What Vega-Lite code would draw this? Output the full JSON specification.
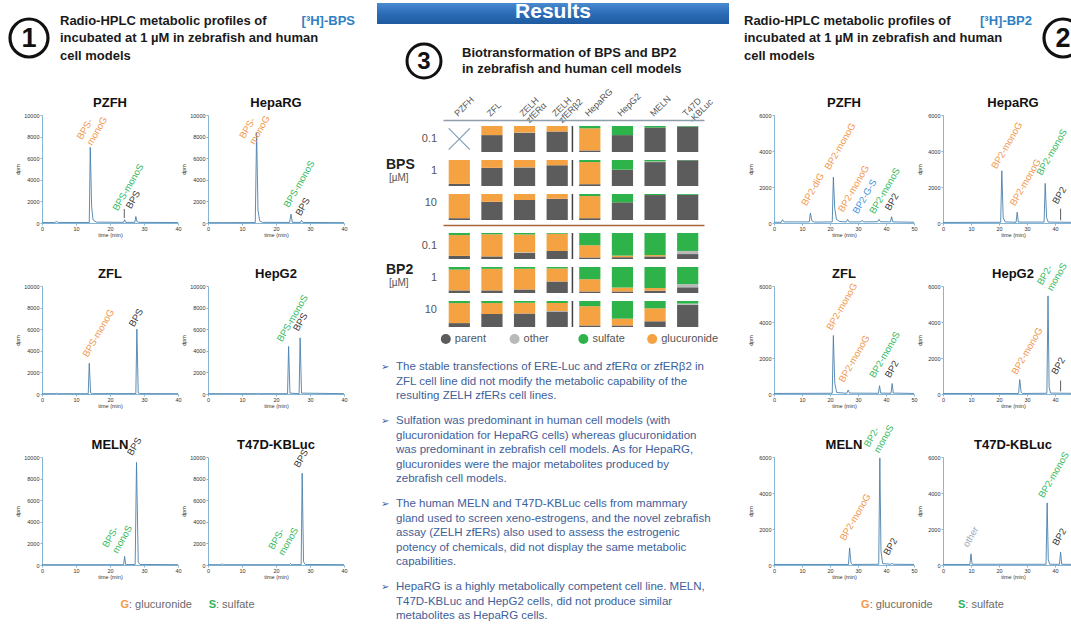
{
"$schema": "https://vega.github.io/schema/vega-lite/v6.json",
"background": "#ffffff",
"padding": {"left": 3, "top": 0, "right": 0, "bottom": 0},
"config": {"font": "Liberation Sans", "view": {"stroke": null}, "axis": {"labelOverlap": false}, "axisY": {"minExtent": 0}},
"datasets": {
"rank": [{"metab":"parent","rank":1},{"metab":"other","rank":2},{"metab":"glucuronide","rank":3},{"metab":"sulfate","rank":4}],
"bps_hplc": [
{"c":"PZFH","r":"trace","t":0,"d":40},{"c":"PZFH","r":"trace","t":3.8,"d":40},{"c":"PZFH","r":"trace","t":4.2,"d":150},{"c":"PZFH","r":"trace","t":4.8,"d":50},{"c":"PZFH","r":"trace","t":13.9,"d":50},{"c":"PZFH","r":"trace","t":14.2,"d":7000},{"c":"PZFH","r":"trace","t":14.6,"d":1500},{"c":"PZFH","r":"trace","t":15,"d":300},{"c":"PZFH","r":"trace","t":16,"d":80},{"c":"PZFH","r":"trace","t":24,"d":60},{"c":"PZFH","r":"trace","t":24.3,"d":300},{"c":"PZFH","r":"trace","t":24.6,"d":60},{"c":"PZFH","r":"trace","t":27.3,"d":60},{"c":"PZFH","r":"trace","t":27.6,"d":600},{"c":"PZFH","r":"trace","t":27.9,"d":150},{"c":"PZFH","r":"trace","t":28.4,"d":60},{"c":"PZFH","r":"trace","t":40,"d":40},
{"c":"HepaRG","r":"trace","t":0,"d":30},{"c":"HepaRG","r":"trace","t":13.9,"d":40},{"c":"HepaRG","r":"trace","t":14.3,"d":8400},{"c":"HepaRG","r":"trace","t":14.7,"d":1200},{"c":"HepaRG","r":"trace","t":15.2,"d":200},{"c":"HepaRG","r":"trace","t":16,"d":60},{"c":"HepaRG","r":"trace","t":24,"d":50},{"c":"HepaRG","r":"trace","t":24.4,"d":820},{"c":"HepaRG","r":"trace","t":24.8,"d":60},{"c":"HepaRG","r":"trace","t":27.2,"d":50},{"c":"HepaRG","r":"trace","t":27.5,"d":250},{"c":"HepaRG","r":"trace","t":27.9,"d":50},{"c":"HepaRG","r":"trace","t":40,"d":30},
{"c":"ZFL","r":"trace","t":0,"d":30},{"c":"ZFL","r":"trace","t":3.8,"d":30},{"c":"ZFL","r":"trace","t":4.2,"d":70},{"c":"ZFL","r":"trace","t":4.6,"d":30},{"c":"ZFL","r":"trace","t":13.6,"d":30},{"c":"ZFL","r":"trace","t":13.9,"d":2850},{"c":"ZFL","r":"trace","t":14.3,"d":100},{"c":"ZFL","r":"trace","t":14.8,"d":30},{"c":"ZFL","r":"trace","t":27.6,"d":40},{"c":"ZFL","r":"trace","t":27.9,"d":6000},{"c":"ZFL","r":"trace","t":28.3,"d":100},{"c":"ZFL","r":"trace","t":28.8,"d":40},{"c":"ZFL","r":"trace","t":40,"d":30},
{"c":"HepG2","r":"trace","t":0,"d":30},{"c":"HepG2","r":"trace","t":14.5,"d":30},{"c":"HepG2","r":"trace","t":14.8,"d":60},{"c":"HepG2","r":"trace","t":15.2,"d":30},{"c":"HepG2","r":"trace","t":23.4,"d":30},{"c":"HepG2","r":"trace","t":23.7,"d":4400},{"c":"HepG2","r":"trace","t":24.1,"d":80},{"c":"HepG2","r":"trace","t":26.8,"d":30},{"c":"HepG2","r":"trace","t":27.1,"d":5200},{"c":"HepG2","r":"trace","t":27.5,"d":80},{"c":"HepG2","r":"trace","t":40,"d":30},
{"c":"MELN","r":"trace","t":0,"d":30},{"c":"MELN","r":"trace","t":24,"d":30},{"c":"MELN","r":"trace","t":24.3,"d":800},{"c":"MELN","r":"trace","t":24.6,"d":40},{"c":"MELN","r":"trace","t":27.4,"d":40},{"c":"MELN","r":"trace","t":27.8,"d":9500},{"c":"MELN","r":"trace","t":28.3,"d":300},{"c":"MELN","r":"trace","t":28.8,"d":50},{"c":"MELN","r":"trace","t":40,"d":30},
{"c":"T47D-KBLuc","r":"trace","t":0,"d":30},{"c":"T47D-KBLuc","r":"trace","t":3.8,"d":30},{"c":"T47D-KBLuc","r":"trace","t":4.2,"d":100},{"c":"T47D-KBLuc","r":"trace","t":4.6,"d":30},{"c":"T47D-KBLuc","r":"trace","t":24,"d":30},{"c":"T47D-KBLuc","r":"trace","t":24.3,"d":150},{"c":"T47D-KBLuc","r":"trace","t":24.6,"d":30},{"c":"T47D-KBLuc","r":"trace","t":27.4,"d":40},{"c":"T47D-KBLuc","r":"trace","t":27.7,"d":8500},{"c":"T47D-KBLuc","r":"trace","t":28.1,"d":300},{"c":"T47D-KBLuc","r":"trace","t":28.6,"d":50},{"c":"T47D-KBLuc","r":"trace","t":40,"d":30},
{"c":"PZFH","r":"label","t":11,"d":7800,"lab":"BPS-\nmonoG","k":"G"},{"c":"PZFH","r":"label","t":21.5,"d":1200,"lab":"BPS-monoS","k":"S"},{"c":"PZFH","r":"label","t":25.4,"d":1400,"lab":"BPS","k":"P"},
{"c":"HepaRG","r":"label","t":10,"d":7900,"lab":"BPS-\nmonoG","k":"G"},{"c":"HepaRG","r":"label","t":23,"d":1500,"lab":"BPS-monoS","k":"S"},{"c":"HepaRG","r":"label","t":26.5,"d":750,"lab":"BPS","k":"P"},
{"c":"ZFL","r":"label","t":12.7,"d":3500,"lab":"BPS-monoG","k":"G"},{"c":"ZFL","r":"label","t":26.3,"d":6300,"lab":"BPS","k":"P"},
{"c":"HepG2","r":"label","t":21,"d":4900,"lab":"BPS-monoS","k":"S"},{"c":"HepG2","r":"label","t":25.8,"d":5900,"lab":"BPS","k":"P"},
{"c":"MELN","r":"label","t":18.5,"d":1700,"lab":"BPS-\nmonoS","k":"S"},{"c":"MELN","r":"label","t":25.8,"d":10200,"lab":"BPS","k":"P"},
{"c":"T47D-KBLuc","r":"label","t":18.5,"d":1500,"lab":"BPS-\nmonoS","k":"S"},{"c":"T47D-KBLuc","r":"label","t":26,"d":9100,"lab":"BPS","k":"P"},
{"c":"PZFH","r":"arrow","t":24.2,"d":1300,"d2":450}
],
"bp2_hplc": [
{"c":"PZFH","r":"trace","t":0,"d":40},{"c":"PZFH","r":"trace","t":2.6,"d":40},{"c":"PZFH","r":"trace","t":3,"d":180},{"c":"PZFH","r":"trace","t":3.6,"d":60},{"c":"PZFH","r":"trace","t":12.6,"d":60},{"c":"PZFH","r":"trace","t":13,"d":550},{"c":"PZFH","r":"trace","t":13.5,"d":120},{"c":"PZFH","r":"trace","t":14.5,"d":50},{"c":"PZFH","r":"trace","t":20.8,"d":60},{"c":"PZFH","r":"trace","t":21.2,"d":2550},{"c":"PZFH","r":"trace","t":21.7,"d":800},{"c":"PZFH","r":"trace","t":22.3,"d":200},{"c":"PZFH","r":"trace","t":23.5,"d":80},{"c":"PZFH","r":"trace","t":25.8,"d":60},{"c":"PZFH","r":"trace","t":26.3,"d":200},{"c":"PZFH","r":"trace","t":26.8,"d":60},{"c":"PZFH","r":"trace","t":31,"d":60},{"c":"PZFH","r":"trace","t":31.5,"d":150},{"c":"PZFH","r":"trace","t":32,"d":60},{"c":"PZFH","r":"trace","t":37,"d":70},{"c":"PZFH","r":"trace","t":37.5,"d":200},{"c":"PZFH","r":"trace","t":38,"d":70},{"c":"PZFH","r":"trace","t":41.6,"d":60},{"c":"PZFH","r":"trace","t":42,"d":350},{"c":"PZFH","r":"trace","t":42.4,"d":60},{"c":"PZFH","r":"trace","t":50,"d":40},
{"c":"HepaRG","r":"trace","t":0,"d":30},{"c":"HepaRG","r":"trace","t":20.6,"d":40},{"c":"HepaRG","r":"trace","t":21,"d":2900},{"c":"HepaRG","r":"trace","t":21.5,"d":300},{"c":"HepaRG","r":"trace","t":22.2,"d":60},{"c":"HepaRG","r":"trace","t":26.1,"d":40},{"c":"HepaRG","r":"trace","t":26.5,"d":600},{"c":"HepaRG","r":"trace","t":26.9,"d":50},{"c":"HepaRG","r":"trace","t":36.1,"d":50},{"c":"HepaRG","r":"trace","t":36.5,"d":2200},{"c":"HepaRG","r":"trace","t":37,"d":300},{"c":"HepaRG","r":"trace","t":37.6,"d":50},{"c":"HepaRG","r":"trace","t":50,"d":30},
{"c":"ZFL","r":"trace","t":0,"d":30},{"c":"ZFL","r":"trace","t":20.8,"d":40},{"c":"ZFL","r":"trace","t":21.2,"d":3250},{"c":"ZFL","r":"trace","t":21.7,"d":600},{"c":"ZFL","r":"trace","t":22.4,"d":80},{"c":"ZFL","r":"trace","t":26,"d":40},{"c":"ZFL","r":"trace","t":26.5,"d":220},{"c":"ZFL","r":"trace","t":27,"d":50},{"c":"ZFL","r":"trace","t":37.3,"d":40},{"c":"ZFL","r":"trace","t":37.7,"d":460},{"c":"ZFL","r":"trace","t":38.1,"d":50},{"c":"ZFL","r":"trace","t":41.8,"d":40},{"c":"ZFL","r":"trace","t":42.2,"d":580},{"c":"ZFL","r":"trace","t":42.6,"d":50},{"c":"ZFL","r":"trace","t":50,"d":30},
{"c":"HepG2","r":"trace","t":0,"d":30},{"c":"HepG2","r":"trace","t":27,"d":30},{"c":"HepG2","r":"trace","t":27.4,"d":800},{"c":"HepG2","r":"trace","t":27.9,"d":100},{"c":"HepG2","r":"trace","t":28.4,"d":30},{"c":"HepG2","r":"trace","t":37.1,"d":40},{"c":"HepG2","r":"trace","t":37.5,"d":5450},{"c":"HepG2","r":"trace","t":37.9,"d":400},{"c":"HepG2","r":"trace","t":38.4,"d":50},{"c":"HepG2","r":"trace","t":50,"d":30},
{"c":"MELN","r":"trace","t":0,"d":30},{"c":"MELN","r":"trace","t":26.6,"d":30},{"c":"MELN","r":"trace","t":27,"d":950},{"c":"MELN","r":"trace","t":27.5,"d":100},{"c":"MELN","r":"trace","t":28,"d":30},{"c":"MELN","r":"trace","t":37.4,"d":40},{"c":"MELN","r":"trace","t":37.8,"d":5950},{"c":"MELN","r":"trace","t":38.2,"d":800},{"c":"MELN","r":"trace","t":38.8,"d":80},{"c":"MELN","r":"trace","t":41.8,"d":40},{"c":"MELN","r":"trace","t":42.2,"d":100},{"c":"MELN","r":"trace","t":42.6,"d":40},{"c":"MELN","r":"trace","t":50,"d":30},
{"c":"T47D-KBLuc","r":"trace","t":0,"d":30},{"c":"T47D-KBLuc","r":"trace","t":9.6,"d":30},{"c":"T47D-KBLuc","r":"trace","t":10,"d":620},{"c":"T47D-KBLuc","r":"trace","t":10.4,"d":40},{"c":"T47D-KBLuc","r":"trace","t":36.8,"d":40},{"c":"T47D-KBLuc","r":"trace","t":37.2,"d":3450},{"c":"T47D-KBLuc","r":"trace","t":37.6,"d":300},{"c":"T47D-KBLuc","r":"trace","t":38.1,"d":40},{"c":"T47D-KBLuc","r":"trace","t":41.6,"d":40},{"c":"T47D-KBLuc","r":"trace","t":42,"d":710},{"c":"T47D-KBLuc","r":"trace","t":42.4,"d":40},{"c":"T47D-KBLuc","r":"trace","t":50,"d":30},
{"c":"PZFH","r":"label","t":10.7,"d":1000,"lab":"BP2-diG","k":"G"},{"c":"PZFH","r":"label","t":19,"d":3000,"lab":"BP2-monoG","k":"G"},{"c":"PZFH","r":"label","t":23.8,"d":650,"lab":"BP2-monoG","k":"G"},{"c":"PZFH","r":"label","t":29,"d":550,"lab":"BP2-G-S","k":"GS"},{"c":"PZFH","r":"label","t":35,"d":550,"lab":"BP2-monoS","k":"S"},{"c":"PZFH","r":"label","t":40.5,"d":740,"lab":"BP2","k":"P"},
{"c":"HepaRG","r":"label","t":18.2,"d":3050,"lab":"BP2-monoG","k":"G"},{"c":"HepaRG","r":"label","t":24.8,"d":1000,"lab":"BP2-monoG","k":"G"},{"c":"HepaRG","r":"label","t":34.3,"d":2700,"lab":"BP2-monoS","k":"S"},{"c":"HepaRG","r":"label","t":40,"d":1100,"lab":"BP2","k":"P"},
{"c":"ZFL","r":"label","t":19.6,"d":3600,"lab":"BP2-monoG","k":"G"},{"c":"ZFL","r":"label","t":24,"d":700,"lab":"BP2-monoG","k":"G"},{"c":"ZFL","r":"label","t":35,"d":950,"lab":"BP2-monoS","k":"S"},{"c":"ZFL","r":"label","t":40.5,"d":950,"lab":"BP2","k":"P"},
{"c":"HepG2","r":"label","t":25.4,"d":1130,"lab":"BP2-monoG","k":"G"},{"c":"HepG2","r":"label","t":34.5,"d":6100,"lab":"BP2-\nmonoS","k":"S"},{"c":"HepG2","r":"label","t":39.6,"d":1130,"lab":"BP2","k":"P"},
{"c":"MELN","r":"label","t":24.4,"d":1400,"lab":"BP2-monoG","k":"G"},{"c":"MELN","r":"label","t":33,"d":6600,"lab":"BP2-\nmonoS","k":"S"},{"c":"MELN","r":"label","t":40,"d":580,"lab":"BP2","k":"P"},
{"c":"T47D-KBLuc","r":"label","t":8,"d":1040,"lab":"other","k":"O"},{"c":"T47D-KBLuc","r":"label","t":35,"d":3775,"lab":"BP2-monoS","k":"S"},{"c":"T47D-KBLuc","r":"label","t":40,"d":1130,"lab":"BP2","k":"P"},
{"c":"HepaRG","r":"arrow","t":42,"d":800,"d2":150},{"c":"HepG2","r":"arrow","t":42,"d":750,"d2":150}
],
"bps_grid": [
{"conc":"0.1","cell":"PZFH","metab":"none","v":0},
{"conc":"0.1","cell":"ZFL","metab":"parent","v":0.65},{"conc":"0.1","cell":"ZFL","metab":"glucuronide","v":0.35},
{"conc":"0.1","cell":"ZELH|zfERα","metab":"parent","v":0.74},{"conc":"0.1","cell":"ZELH|zfERα","metab":"other","v":0.01},{"conc":"0.1","cell":"ZELH|zfERα","metab":"glucuronide","v":0.25},
{"conc":"0.1","cell":"ZELH|zfERβ2","metab":"parent","v":0.79},{"conc":"0.1","cell":"ZELH|zfERβ2","metab":"glucuronide","v":0.21},
{"conc":"0.1","cell":"HepaRG","metab":"parent","v":0.06},{"conc":"0.1","cell":"HepaRG","metab":"glucuronide","v":0.85},{"conc":"0.1","cell":"HepaRG","metab":"sulfate","v":0.09},
{"conc":"0.1","cell":"HepG2","metab":"parent","v":0.65},{"conc":"0.1","cell":"HepG2","metab":"sulfate","v":0.35},
{"conc":"0.1","cell":"MELN","metab":"parent","v":0.94},{"conc":"0.1","cell":"MELN","metab":"sulfate","v":0.06},
{"conc":"0.1","cell":"T47D|-KBLuc","metab":"parent","v":0.98},{"conc":"0.1","cell":"T47D|-KBLuc","metab":"sulfate","v":0.02},
{"conc":"1","cell":"PZFH","metab":"parent","v":0.08},{"conc":"1","cell":"PZFH","metab":"glucuronide","v":0.92},
{"conc":"1","cell":"ZFL","metab":"parent","v":0.7},{"conc":"1","cell":"ZFL","metab":"glucuronide","v":0.3},
{"conc":"1","cell":"ZELH|zfERα","metab":"parent","v":0.71},{"conc":"1","cell":"ZELH|zfERα","metab":"other","v":0.01},{"conc":"1","cell":"ZELH|zfERα","metab":"glucuronide","v":0.28},
{"conc":"1","cell":"ZELH|zfERβ2","metab":"parent","v":0.8},{"conc":"1","cell":"ZELH|zfERβ2","metab":"glucuronide","v":0.2},
{"conc":"1","cell":"HepaRG","metab":"parent","v":0.07},{"conc":"1","cell":"HepaRG","metab":"glucuronide","v":0.85},{"conc":"1","cell":"HepaRG","metab":"sulfate","v":0.08},
{"conc":"1","cell":"HepG2","metab":"parent","v":0.63},{"conc":"1","cell":"HepG2","metab":"sulfate","v":0.37},
{"conc":"1","cell":"MELN","metab":"parent","v":0.92},{"conc":"1","cell":"MELN","metab":"other","v":0.03},{"conc":"1","cell":"MELN","metab":"sulfate","v":0.05},
{"conc":"1","cell":"T47D|-KBLuc","metab":"parent","v":0.99},{"conc":"1","cell":"T47D|-KBLuc","metab":"sulfate","v":0.01},
{"conc":"10","cell":"PZFH","metab":"parent","v":0.07},{"conc":"10","cell":"PZFH","metab":"glucuronide","v":0.93},
{"conc":"10","cell":"ZFL","metab":"parent","v":0.7},{"conc":"10","cell":"ZFL","metab":"glucuronide","v":0.3},
{"conc":"10","cell":"ZELH|zfERα","metab":"parent","v":0.77},{"conc":"10","cell":"ZELH|zfERα","metab":"glucuronide","v":0.23},
{"conc":"10","cell":"ZELH|zfERβ2","metab":"parent","v":0.82},{"conc":"10","cell":"ZELH|zfERβ2","metab":"glucuronide","v":0.18},
{"conc":"10","cell":"HepaRG","metab":"parent","v":0.07},{"conc":"10","cell":"HepaRG","metab":"glucuronide","v":0.85},{"conc":"10","cell":"HepaRG","metab":"sulfate","v":0.08},
{"conc":"10","cell":"HepG2","metab":"parent","v":0.68},{"conc":"10","cell":"HepG2","metab":"sulfate","v":0.32},
{"conc":"10","cell":"MELN","metab":"parent","v":0.96},{"conc":"10","cell":"MELN","metab":"sulfate","v":0.04},
{"conc":"10","cell":"T47D|-KBLuc","metab":"parent","v":0.97},{"conc":"10","cell":"T47D|-KBLuc","metab":"sulfate","v":0.03}
],
"bp2_grid": [
{"conc":"0.1","cell":"PZFH","metab":"parent","v":0.12},{"conc":"0.1","cell":"PZFH","metab":"glucuronide","v":0.8},{"conc":"0.1","cell":"PZFH","metab":"sulfate","v":0.08},
{"conc":"0.1","cell":"ZFL","metab":"parent","v":0.1},{"conc":"0.1","cell":"ZFL","metab":"glucuronide","v":0.85},{"conc":"0.1","cell":"ZFL","metab":"sulfate","v":0.05},
{"conc":"0.1","cell":"ZELH|zfERα","metab":"parent","v":0.24},{"conc":"0.1","cell":"ZELH|zfERα","metab":"other","v":0.02},{"conc":"0.1","cell":"ZELH|zfERα","metab":"glucuronide","v":0.68},{"conc":"0.1","cell":"ZELH|zfERα","metab":"sulfate","v":0.06},
{"conc":"0.1","cell":"ZELH|zfERβ2","metab":"parent","v":0.31},{"conc":"0.1","cell":"ZELH|zfERβ2","metab":"glucuronide","v":0.66},{"conc":"0.1","cell":"ZELH|zfERβ2","metab":"sulfate","v":0.03},
{"conc":"0.1","cell":"HepaRG","metab":"parent","v":0.06},{"conc":"0.1","cell":"HepaRG","metab":"glucuronide","v":0.47},{"conc":"0.1","cell":"HepaRG","metab":"sulfate","v":0.47},
{"conc":"0.1","cell":"HepG2","metab":"parent","v":0.07},{"conc":"0.1","cell":"HepG2","metab":"glucuronide","v":0.06},{"conc":"0.1","cell":"HepG2","metab":"sulfate","v":0.87},
{"conc":"0.1","cell":"MELN","metab":"parent","v":0.1},{"conc":"0.1","cell":"MELN","metab":"glucuronide","v":0.05},{"conc":"0.1","cell":"MELN","metab":"sulfate","v":0.85},
{"conc":"0.1","cell":"T47D|-KBLuc","metab":"parent","v":0.19},{"conc":"0.1","cell":"T47D|-KBLuc","metab":"other","v":0.12},{"conc":"0.1","cell":"T47D|-KBLuc","metab":"sulfate","v":0.69},
{"conc":"1","cell":"PZFH","metab":"parent","v":0.1},{"conc":"1","cell":"PZFH","metab":"glucuronide","v":0.8},{"conc":"1","cell":"PZFH","metab":"sulfate","v":0.1},
{"conc":"1","cell":"ZFL","metab":"parent","v":0.1},{"conc":"1","cell":"ZFL","metab":"glucuronide","v":0.83},{"conc":"1","cell":"ZFL","metab":"sulfate","v":0.07},
{"conc":"1","cell":"ZELH|zfERα","metab":"parent","v":0.13},{"conc":"1","cell":"ZELH|zfERα","metab":"glucuronide","v":0.8},{"conc":"1","cell":"ZELH|zfERα","metab":"sulfate","v":0.07},
{"conc":"1","cell":"ZELH|zfERβ2","metab":"parent","v":0.44},{"conc":"1","cell":"ZELH|zfERβ2","metab":"glucuronide","v":0.5},{"conc":"1","cell":"ZELH|zfERβ2","metab":"sulfate","v":0.06},
{"conc":"1","cell":"HepaRG","metab":"parent","v":0.06},{"conc":"1","cell":"HepaRG","metab":"glucuronide","v":0.47},{"conc":"1","cell":"HepaRG","metab":"sulfate","v":0.47},
{"conc":"1","cell":"HepG2","metab":"parent","v":0.06},{"conc":"1","cell":"HepG2","metab":"glucuronide","v":0.15},{"conc":"1","cell":"HepG2","metab":"sulfate","v":0.79},
{"conc":"1","cell":"MELN","metab":"parent","v":0.09},{"conc":"1","cell":"MELN","metab":"glucuronide","v":0.1},{"conc":"1","cell":"MELN","metab":"sulfate","v":0.81},
{"conc":"1","cell":"T47D|-KBLuc","metab":"parent","v":0.22},{"conc":"1","cell":"T47D|-KBLuc","metab":"other","v":0.12},{"conc":"1","cell":"T47D|-KBLuc","metab":"sulfate","v":0.66},
{"conc":"10","cell":"PZFH","metab":"parent","v":0.15},{"conc":"10","cell":"PZFH","metab":"glucuronide","v":0.77},{"conc":"10","cell":"PZFH","metab":"sulfate","v":0.08},
{"conc":"10","cell":"ZFL","metab":"parent","v":0.5},{"conc":"10","cell":"ZFL","metab":"glucuronide","v":0.42},{"conc":"10","cell":"ZFL","metab":"sulfate","v":0.08},
{"conc":"10","cell":"ZELH|zfERα","metab":"parent","v":0.52},{"conc":"10","cell":"ZELH|zfERα","metab":"glucuronide","v":0.41},{"conc":"10","cell":"ZELH|zfERα","metab":"sulfate","v":0.07},
{"conc":"10","cell":"ZELH|zfERβ2","metab":"parent","v":0.6},{"conc":"10","cell":"ZELH|zfERβ2","metab":"other","v":0.02},{"conc":"10","cell":"ZELH|zfERβ2","metab":"glucuronide","v":0.3},{"conc":"10","cell":"ZELH|zfERβ2","metab":"sulfate","v":0.08},
{"conc":"10","cell":"HepaRG","metab":"parent","v":0.06},{"conc":"10","cell":"HepaRG","metab":"glucuronide","v":0.74},{"conc":"10","cell":"HepaRG","metab":"sulfate","v":0.2},
{"conc":"10","cell":"HepG2","metab":"parent","v":0.06},{"conc":"10","cell":"HepG2","metab":"glucuronide","v":0.26},{"conc":"10","cell":"HepG2","metab":"sulfate","v":0.68},
{"conc":"10","cell":"MELN","metab":"parent","v":0.22},{"conc":"10","cell":"MELN","metab":"glucuronide","v":0.5},{"conc":"10","cell":"MELN","metab":"sulfate","v":0.28},
{"conc":"10","cell":"T47D|-KBLuc","metab":"parent","v":0.85},{"conc":"10","cell":"T47D|-KBLuc","metab":"other","v":0.05},{"conc":"10","cell":"T47D|-KBLuc","metab":"sulfate","v":0.1}
]
},
"resolve": {"scale": {"color": "independent"}},
"spacing": 16,
"hconcat": [
{
 "columns": 1, "align": "none",
 "spacing": 23,
 "resolve": {"scale": {"color": "independent"}},
 "concat": [
  {"width": 319, "height": 70,
   "data": {"values": [{"line": 1, "part": "a", "txt": "Radio-HPLC metabolic profiles of"}, {"line": 1, "part": "b", "txt": "[³H]-BPS"}, {"line": 2, "part": "a", "txt": "incubated at 1 µM in zebrafish and human"}, {"line": 3, "part": "a", "txt": "cell models"}]},
   "layer": [
    {"transform": [{"filter": "datum.line == 1 && datum.part == 'a'"}], "mark": {"type": "point", "shape": "M -1.684 0 A 1 1 0 1 1 0.316 0 A 1 1 0 1 1 -1.684 0 Z", "size": 1444, "filled": false, "color": "#111111", "strokeWidth": 3.2, "opacity": 1},
     "encoding": {"x": {"datum": 0, "type": "quantitative", "scale": {"domain": [0, 1]}, "axis": null}}},
    {"transform": [{"filter": "datum.line == 1 && datum.part == 'a'"}], "mark": {"type": "text", "fontSize": 27, "fontWeight": "bold", "color": "#111111", "baseline": "middle", "align": "center", "dx": -13, "dy": 1},
     "encoding": {"x": {"datum": 0, "type": "quantitative", "scale": {"domain": [0, 1]}, "axis": null}, "text": {"value": "1"}}},
    {"transform": [{"filter": "datum.part == 'a'"}], "mark": {"type": "text", "align": "left", "baseline": "middle", "fontSize": 13, "fontWeight": "bold", "color": "#1a1a1a", "dx": 18},
     "encoding": {"y": {"field": "line", "type": "ordinal", "axis": null, "scale": {"type": "point", "padding": 1.333}}, "x": {"datum": 0, "type": "quantitative", "scale": {"domain": [0, 1]}, "axis": null}, "text": {"field": "txt"}}},
    {"transform": [{"filter": "datum.part == 'b'"}], "mark": {"type": "text", "align": "right", "baseline": "middle", "fontSize": 13, "fontWeight": "bold", "color": "#2f7fc4", "dx": -6},
     "encoding": {"y": {"field": "line", "type": "ordinal", "axis": null, "scale": {"type": "point", "padding": 1.333}}, "x": {"datum": 1, "type": "quantitative", "scale": {"domain": [0, 1]}, "axis": null}, "text": {"field": "txt"}}}
   ]},
  {"columns": 1, "align": "none", "spacing": 15, "resolve": {"scale": {"color": "independent"}}, "concat": [
   {"data": {"name": "bps_hplc"},
    "facet": {"field": "c", "type": "nominal", "sort": ["PZFH", "HepaRG", "ZFL", "HepG2", "MELN", "T47D-KBLuc"], "title": null, "header": {"labelExpr": "''", "labelFontSize": 1, "labelPadding": 0}},
    "columns": 2,
    "bounds": "flush",
    "spacing": {"row": 63, "column": 30},
    "resolve": {"axis": {"x": "independent", "y": "independent"}},
    "spec": {"width": 136, "height": 108,
     "encoding": {
        "x": {"field": "t", "type": "quantitative", "scale": {"domain": [0, 40], "nice": false},
              "axis": {"title": "time (min)", "values": [0,5,10,15,20,25,30,35,40], "tickCount": 8, "format": "d", "labelOverlap": false, "labelFlush": false, "grid": false, "labelFontSize": 5.5, "titleFontSize": 5.5, "titleFontWeight": "normal", "labelColor": "#333333", "titleColor": "#333333", "domainColor": "#86b6d6", "tickColor": "#86b6d6", "tickSize": 2, "labelPadding": 1, "titlePadding": 1}},
        "y": {"field": "d", "type": "quantitative", "scale": {"domain": [0, 10000], "nice": false},
              "axis": {"title": "dpm", "values": [0,1000,2000,3000,4000,5000,6000,7000,8000,9000,10000], "tickCount": 10, "minExtent": 0, "format": "d", "labelOverlap": false, "labelFlush": false, "grid": false, "labelFontSize": 5.5, "titleFontSize": 5.5, "titleFontWeight": "normal", "labelColor": "#333333", "titleColor": "#333333", "domainColor": "#86b6d6", "tickColor": "#86b6d6", "tickSize": 2, "labelPadding": 1, "titlePadding": 3}}
     },
     "layer": [
      {"transform": [{"filter": "datum.r == 'trace'"}], "mark": {"type": "line", "color": "#4a80ad", "strokeWidth": 0.9}},
      {"transform": [{"filter": "datum.r == 'label'"}], "mark": {"type": "text", "angle": -60, "align": "left", "baseline": "middle", "fontSize": 9.5, "lineBreak": "\n"},
       "encoding": {"text": {"field": "lab"},
        "color": {"field": "k", "type": "nominal", "scale": {"domain": ["G", "S", "P", "GS", "O"], "range": ["#f0964a", "#2fb85a", "#333333", "#3d8fd6", "#9aa8b8"]}, "legend": null}}},
      {"transform": [{"filter": "datum.r == 'arrow'"}], "mark": {"type": "rule", "color": "#333333", "strokeWidth": 0.8},
       "encoding": {"y2": {"field": "d2"}}},
      {"transform": [{"filter": "datum.r == 'trace' && datum.t == 0"}], "mark": {"type": "text", "fontSize": 13, "fontWeight": "bold", "color": "#111111", "align": "center", "baseline": "middle", "dy": -12},
       "encoding": {
        "x": {"datum": 20, "type": "quantitative",
              "axis": {"title": "time (min)", "values": [0,5,10,15,20,25,30,35,40], "tickCount": 8, "format": "d", "labelOverlap": false, "labelFlush": false, "grid": false, "labelFontSize": 5.5, "titleFontSize": 5.5, "titleFontWeight": "normal", "labelColor": "#333333", "titleColor": "#333333", "domainColor": "#86b6d6", "tickColor": "#86b6d6", "tickSize": 2, "labelPadding": 1, "titlePadding": 1}},
        "y": {"datum": 10000, "type": "quantitative",
              "axis": {"title": "dpm", "values": [0,1000,2000,3000,4000,5000,6000,7000,8000,9000,10000], "tickCount": 10, "minExtent": 0, "format": "d", "labelOverlap": false, "labelFlush": false, "grid": false, "labelFontSize": 5.5, "titleFontSize": 5.5, "titleFontWeight": "normal", "labelColor": "#333333", "titleColor": "#333333", "domainColor": "#86b6d6", "tickColor": "#86b6d6", "tickSize": 2, "labelPadding": 1, "titlePadding": 3}},
        "text": {"field": "c"}}}
     ]}
   },
   {"width": 261, "height": 20,
    "data": {"values": [{"key": "G", "desc": ": glucuronide"}, {"key": "S", "desc": ": sulfate"}]},
    "encoding": {"x": {"field": "key", "type": "nominal", "scale": {"type": "point", "padding": 1.195}, "axis": null}},
    "layer": [
     {"mark": {"type": "text", "align": "right", "baseline": "middle", "fontSize": 11, "fontWeight": "bold"},
      "encoding": {"text": {"field": "key"}, "color": {"field": "key", "type": "nominal", "scale": {"domain": ["G", "S"], "range": ["#f39a4a", "#2fb35a"]}, "legend": null}}},
     {"mark": {"type": "text", "align": "left", "baseline": "middle", "fontSize": 11, "color": "#6a6a6a"}, "encoding": {"text": {"field": "desc"}}}
    ]}
  ]}
 ]
},
{
 "spacing": 15,
 "resolve": {"scale": {"color": "independent"}},
 "hconcat": [
  {
   "columns": 1, "align": "none",
   "spacing": 14,
   "resolve": {"scale": {"color": "independent"}},
   "concat": [
    {"width": 352, "height": 21, "data": {"values": [{"t": "Results"}]},
     "layer": [
      {"mark": {"type": "rect", "color": {"gradient": "linear", "x1": 0, "y1": 0, "x2": 0, "y2": 1, "stops": [{"offset": 0, "color": "#4a8ad0"}, {"offset": 0.5, "color": "#2c6cb8"}, {"offset": 1, "color": "#1e5aa0"}]}}, "encoding": {}},
      {"mark": {"type": "text", "fontSize": 21, "fontWeight": "bold", "color": "#ffffff", "baseline": "middle", "dy": -2}, "encoding": {"text": {"field": "t"}}}
     ]},
    {"columns": 1, "align": "none", "spacing": 14, "concat": [
    {"columns": 1, "align": "none", "spacing": 2, "concat": [
    {"spacing": 15, "hconcat": [
     {"width": 9, "height": 38, "data": {"values": [{"s": 1}]}, "mark": {"type": "rect", "color": "#ffffff"}, "encoding": {}},
     {"width": 36, "height": 38, "data": {"values": [{"n": "3"}]},
      "layer": [
       {"mark": {"type": "point", "shape": "circle", "size": 1156, "filled": false, "color": "#111111", "strokeWidth": 3, "opacity": 1}, "encoding": {}},
       {"mark": {"type": "text", "fontSize": 24, "fontWeight": "bold", "color": "#111111", "baseline": "middle", "dy": 1}, "encoding": {"text": {"field": "n"}}}
      ]},
     {"width": 253, "height": 38,
      "data": {"values": [{"line": 1, "txt": "Biotransformation of BPS and BP2"}, {"line": 2, "txt": "in zebrafish and human cell models"}]},
      "mark": {"type": "text", "align": "left", "baseline": "middle", "fontSize": 13, "fontWeight": "bold", "color": "#1a1a1a"},
      "encoding": {"y": {"field": "line", "type": "ordinal", "axis": null, "scale": {"type": "point", "padding": 0.6875}},
                   "x": {"datum": 0, "type": "quantitative", "scale": {"domain": [0, 1]}, "axis": null}, "text": {"field": "txt"}}}
    ]},
    {"columns": 1, "align": "none", "spacing": 4, "concat": [
     {"spacing": 4, "hconcat": [
      {"width": 62, "height": 90, "data": {"values": [{"conc": "0.1"}, {"conc": "1"}, {"conc": "10"}]},
       "encoding": {"y": {"field": "conc", "type": "ordinal", "sort": ["0.1", "1", "10"], "scale": {"type": "band", "paddingInner": 0.1875, "paddingOuter": 0}, "axis": null},
                    "x": {"datum": 1, "type": "quantitative", "scale": {"domain": [0, 1]}, "axis": null}},
       "layer": [
        {"mark": {"type": "text", "align": "right", "baseline": "middle", "fontSize": 11, "color": "#555555", "dx": -2}, "encoding": {"text": {"field": "conc"}}},
        {"transform": [{"filter": "datum.conc == '1'"}], "mark": {"type": "text", "align": "left", "baseline": "middle", "fontSize": 14, "fontWeight": "bold", "color": "#222222", "dx": -53, "dy": -6}, "encoding": {"text": {"value": "BPS"}}},
        {"transform": [{"filter": "datum.conc == '1'"}], "mark": {"type": "text", "align": "left", "baseline": "middle", "fontSize": 10, "color": "#555555", "dx": -50, "dy": 7}, "encoding": {"text": {"value": "[µM]"}}}
       ]},
      {"data": {"name": "bps_grid"},
       "transform": [{"lookup": "metab", "from": {"data": {"name": "rank"}, "key": "metab", "fields": ["rank"]}}],
       "facet": {"row": {"field": "conc", "type": "ordinal", "sort": ["0.1", "1", "10"], "title": null, "header": {"labels": false}}},
       "spacing": {"row": 6},
       "spec": {"width": 261, "height": 26,
        "layer": [
         {"transform": [{"filter": "datum.metab != 'none'"}], "mark": {"type": "bar"},
          "encoding": {
           "x": {"field": "cell", "type": "nominal", "sort": ["PZFH", "ZFL", "ZELH|zfERα", "ZELH|zfERβ2", "HepaRG", "HepG2", "MELN", "T47D|-KBLuc"], "scale": {"paddingInner": 0.35, "paddingOuter": 0.175},
                 "axis": {"orient": "top", "title": null, "ticks": false, "labelAngle": -45, "labelFontSize": 9, "labelLineHeight": 9, "labelColor": "#555555", "labelExpr": "split(datum.label, '|')", "domainColor": "#8d9daa", "domainWidth": 1.5, "offset": 5, "labelPadding": 2}},
           "y": {"field": "v", "type": "quantitative", "stack": "normalize", "axis": null},
           "order": {"field": "rank", "type": "quantitative", "sort": "ascending"},
           "color": {"field": "metab", "type": "nominal", "scale": {"domain": ["parent", "other", "sulfate", "glucuronide"], "range": ["#5c5c5c", "#b9b9b9", "#2db34a", "#f5a243"]}, "legend": null}
          }},
         {"transform": [{"filter": "datum.metab == 'none'"}], "mark": {"type": "point", "shape": "M-1,-1L1,1M-1,1L1,-1", "size": 450, "filled": false, "color": "#7f9fb8", "strokeWidth": 1.2, "opacity": 1},
          "encoding": {"x": {"field": "cell", "type": "nominal", "sort": ["PZFH", "ZFL", "ZELH|zfERα", "ZELH|zfERβ2", "HepaRG", "HepG2", "MELN", "T47D|-KBLuc"]}}},
         {"transform": [{"filter": "datum.cell == 'HepaRG' && datum.metab == 'parent'"}], "mark": {"type": "rule", "color": "#444444", "strokeWidth": 1.5},
          "encoding": {"x": {"datum": "HepaRG", "bandPosition": -0.32}}}
        ]}
      }
     ]},
     {"spacing": 4, "hconcat": [
      {"width": 62, "height": 90, "data": {"values": [{"conc": "0.1"}, {"conc": "1"}, {"conc": "10"}]},
       "encoding": {"y": {"field": "conc", "type": "ordinal", "sort": ["0.1", "1", "10"], "scale": {"type": "band", "paddingInner": 0.1875, "paddingOuter": 0}, "axis": null},
                    "x": {"datum": 1, "type": "quantitative", "scale": {"domain": [0, 1]}, "axis": null}},
       "layer": [
        {"mark": {"type": "text", "align": "right", "baseline": "middle", "fontSize": 11, "color": "#555555", "dx": -2}, "encoding": {"text": {"field": "conc"}}},
        {"transform": [{"filter": "datum.conc == '1'"}], "mark": {"type": "text", "align": "left", "baseline": "middle", "fontSize": 14, "fontWeight": "bold", "color": "#222222", "dx": -53, "dy": -8}, "encoding": {"text": {"value": "BP2"}}},
        {"transform": [{"filter": "datum.conc == '1'"}], "mark": {"type": "text", "align": "left", "baseline": "middle", "fontSize": 10, "color": "#555555", "dx": -50, "dy": 5}, "encoding": {"text": {"value": "[µM]"}}}
       ]},
      {"data": {"name": "bp2_grid"},
       "transform": [{"lookup": "metab", "from": {"data": {"name": "rank"}, "key": "metab", "fields": ["rank"]}}],
       "facet": {"row": {"field": "conc", "type": "ordinal", "sort": ["0.1", "1", "10"], "title": null, "header": {"labels": false}}},
       "spacing": {"row": 6},
       "spec": {"width": 261, "height": 26,
        "layer": [
         {"mark": {"type": "bar"},
          "encoding": {
           "x": {"field": "cell", "type": "nominal", "sort": ["PZFH", "ZFL", "ZELH|zfERα", "ZELH|zfERβ2", "HepaRG", "HepG2", "MELN", "T47D|-KBLuc"], "scale": {"paddingInner": 0.35, "paddingOuter": 0.175},
                 "axis": {"orient": "top", "title": null, "ticks": false, "labels": false, "domainColor": "#a8653e", "domainWidth": 1.5, "offset": 7}},
           "y": {"field": "v", "type": "quantitative", "stack": "normalize", "axis": null},
           "order": {"field": "rank", "type": "quantitative", "sort": "ascending"},
           "color": {"field": "metab", "type": "nominal", "scale": {"domain": ["parent", "other", "sulfate", "glucuronide"], "range": ["#5c5c5c", "#b9b9b9", "#2db34a", "#f5a243"]}, "legend": null}
          }},
         {"transform": [{"filter": "datum.cell == 'HepaRG' && datum.metab == 'parent'"}], "mark": {"type": "rule", "color": "#444444", "strokeWidth": 1.5},
          "encoding": {"x": {"datum": "HepaRG", "bandPosition": -0.32}}}
        ]}
      }
     ]},
     {"width": 344, "height": 14,
      "data": {"values": [{"m": "parent"}, {"m": "other"}, {"m": "sulfate"}, {"m": "glucuronide"}]},
      "encoding": {"x": {"field": "m", "type": "nominal", "sort": ["parent", "other", "sulfate", "glucuronide"], "scale": {"type": "point", "padding": 1.367}, "axis": null}},
      "layer": [
       {"mark": {"type": "point", "filled": true, "size": 100, "opacity": 1},
        "encoding": {"color": {"field": "m", "type": "nominal", "scale": {"domain": ["parent", "other", "sulfate", "glucuronide"], "range": ["#5c5c5c", "#b9b9b9", "#2db34a", "#f5a243"]}, "legend": null}}},
       {"mark": {"type": "text", "align": "left", "baseline": "middle", "dx": 9, "fontSize": 11, "color": "#555555"}, "encoding": {"text": {"field": "m"}}}
      ]}
    ]}
    ]},
    {"columns": 1, "align": "none", "spacing": 10, "concat": [
     {"width": 345, "height": 43.5,
      "data": {"values": [{"line": 1, "txt": "The stable transfections of ERE-Luc and zfERα or zfERβ2 in"}, {"line": 2, "txt": "ZFL cell line did not modify the metabolic capability of the"}, {"line": 3, "txt": "resulting ZELH zfERs cell lines."}]},
      "encoding": {"y": {"field": "line", "type": "ordinal", "axis": null}, "x": {"datum": 0, "type": "quantitative", "scale": {"domain": [0, 1]}, "axis": null}},
      "layer": [
       {"mark": {"type": "text", "align": "left", "baseline": "middle", "fontSize": 11.5, "color": "#40609a", "dx": 19}, "encoding": {"text": {"field": "txt"}}},
       {"transform": [{"filter": "datum.line == 1"}], "mark": {"type": "text", "align": "left", "baseline": "middle", "fontSize": 10, "color": "#40609a", "dx": 4}, "encoding": {"text": {"value": "➢"}}}
      ]},
     {"width": 345, "height": 72.5,
      "data": {"values": [{"line": 1, "txt": "Sulfation was predominant in human cell models (with"}, {"line": 2, "txt": "glucuronidation for HepaRG cells) whereas glucuronidation"}, {"line": 3, "txt": "was predominant in zebrafish cell models. As for HepaRG,"}, {"line": 4, "txt": "glucuronides were the major metabolites produced by"}, {"line": 5, "txt": "zebrafish cell models."}]},
      "encoding": {"y": {"field": "line", "type": "ordinal", "axis": null}, "x": {"datum": 0, "type": "quantitative", "scale": {"domain": [0, 1]}, "axis": null}},
      "layer": [
       {"mark": {"type": "text", "align": "left", "baseline": "middle", "fontSize": 11.5, "color": "#40609a", "dx": 19}, "encoding": {"text": {"field": "txt"}}},
       {"transform": [{"filter": "datum.line == 1"}], "mark": {"type": "text", "align": "left", "baseline": "middle", "fontSize": 10, "color": "#40609a", "dx": 4}, "encoding": {"text": {"value": "➢"}}}
      ]},
     {"width": 345, "height": 72.5,
      "data": {"values": [{"line": 1, "txt": "The human MELN and T47D-KBLuc cells from mammary"}, {"line": 2, "txt": "gland used to screen xeno-estrogens, and the novel zebrafish"}, {"line": 3, "txt": "assay (ZELH zfERs) also used to assess the estrogenic"}, {"line": 4, "txt": "potency of chemicals, did not display the same metabolic"}, {"line": 5, "txt": "capabilities."}]},
      "encoding": {"y": {"field": "line", "type": "ordinal", "axis": null}, "x": {"datum": 0, "type": "quantitative", "scale": {"domain": [0, 1]}, "axis": null}},
      "layer": [
       {"mark": {"type": "text", "align": "left", "baseline": "middle", "fontSize": 11.5, "color": "#40609a", "dx": 19}, "encoding": {"text": {"field": "txt"}}},
       {"transform": [{"filter": "datum.line == 1"}], "mark": {"type": "text", "align": "left", "baseline": "middle", "fontSize": 10, "color": "#40609a", "dx": 4}, "encoding": {"text": {"value": "➢"}}}
      ]},
     {"width": 345, "height": 43.5,
      "data": {"values": [{"line": 1, "txt": "HepaRG is a highly metabolically competent cell line. MELN,"}, {"line": 2, "txt": "T47D-KBLuc and HepG2 cells, did not produce similar"}, {"line": 3, "txt": "metabolites as HepaRG cells."}]},
      "encoding": {"y": {"field": "line", "type": "ordinal", "axis": null}, "x": {"datum": 0, "type": "quantitative", "scale": {"domain": [0, 1]}, "axis": null}},
      "layer": [
       {"mark": {"type": "text", "align": "left", "baseline": "middle", "fontSize": 11.5, "color": "#40609a", "dx": 19}, "encoding": {"text": {"field": "txt"}}},
       {"transform": [{"filter": "datum.line == 1"}], "mark": {"type": "text", "align": "left", "baseline": "middle", "fontSize": 10, "color": "#40609a", "dx": 4}, "encoding": {"text": {"value": "➢"}}}
      ]}
    ]}
    ]}
   ]
  },
  {
   "columns": 1, "align": "none",
   "spacing": 23,
   "resolve": {"scale": {"color": "independent"}},
   "concat": [
    {"width": 289, "height": 70,
     "data": {"values": [{"line": 1, "part": "a", "txt": "Radio-HPLC metabolic profiles of"}, {"line": 1, "part": "b", "txt": "[³H]-BP2"}, {"line": 2, "part": "a", "txt": "incubated at 1 µM in zebrafish and human"}, {"line": 3, "part": "a", "txt": "cell models"}]},
     "layer": [
      {"transform": [{"filter": "datum.part == 'b'"}], "mark": {"type": "point", "shape": "circle", "size": 1444, "filled": false, "color": "#111111", "strokeWidth": 3.2, "opacity": 1},
       "encoding": {"x": {"datum": 1, "type": "quantitative", "scale": {"domain": [0, 1]}, "axis": null}}},
      {"transform": [{"filter": "datum.part == 'b'"}], "mark": {"type": "text", "fontSize": 27, "fontWeight": "bold", "color": "#111111", "baseline": "middle", "align": "center", "dy": 1},
       "encoding": {"x": {"datum": 1, "type": "quantitative", "scale": {"domain": [0, 1]}, "axis": null}, "text": {"value": "2"}}},
      {"transform": [{"filter": "datum.part == 'a'"}], "mark": {"type": "text", "align": "left", "baseline": "middle", "fontSize": 13, "fontWeight": "bold", "color": "#1a1a1a", "dx": -30},
       "encoding": {"y": {"field": "line", "type": "ordinal", "axis": null, "scale": {"type": "point", "padding": 1.333}}, "x": {"datum": 0, "type": "quantitative", "scale": {"domain": [0, 1]}, "axis": null}, "text": {"field": "txt"}}},
      {"transform": [{"filter": "datum.part == 'b'"}], "mark": {"type": "text", "align": "right", "baseline": "middle", "fontSize": 13, "fontWeight": "bold", "color": "#2f7fc4", "dx": -31},
       "encoding": {"y": {"field": "line", "type": "ordinal", "axis": null, "scale": {"type": "point", "padding": 1.333}}, "x": {"datum": 1, "type": "quantitative", "scale": {"domain": [0, 1]}, "axis": null}, "text": {"field": "txt"}}}
     ]},
    {"columns": 1, "align": "none", "spacing": 15, "resolve": {"scale": {"color": "independent"}}, "concat": [
     {"data": {"name": "bp2_hplc"},
      "facet": {"field": "c", "type": "nominal", "sort": ["PZFH", "HepaRG", "ZFL", "HepG2", "MELN", "T47D-KBLuc"], "title": null, "header": {"labelExpr": "''", "labelFontSize": 1, "labelPadding": 0}},
      "columns": 2,
      "bounds": "flush",
      "spacing": {"row": 63, "column": 29},
      "resolve": {"axis": {"x": "independent", "y": "independent"}},
      "spec": {"width": 140, "height": 108,
       "encoding": {
          "x": {"field": "t", "type": "quantitative", "scale": {"domain": [0, 50], "nice": false},
                "axis": {"title": "time (min)", "values": [0,5,10,15,20,25,30,35,40,45,50], "tickCount": 10, "format": "d", "labelOverlap": false, "labelFlush": false, "grid": false, "labelFontSize": 5.5, "titleFontSize": 5.5, "titleFontWeight": "normal", "labelColor": "#333333", "titleColor": "#333333", "domainColor": "#86b6d6", "tickColor": "#86b6d6", "tickSize": 2, "labelPadding": 1, "titlePadding": 1}},
          "y": {"field": "d", "type": "quantitative", "scale": {"domain": [0, 6000], "nice": false},
                "axis": {"title": "dpm", "values": [0,1000,2000,3000,4000,5000,6000], "tickCount": 6, "minExtent": 0, "format": "d", "labelOverlap": false, "labelFlush": false, "grid": false, "labelFontSize": 5.5, "titleFontSize": 5.5, "titleFontWeight": "normal", "labelColor": "#333333", "titleColor": "#333333", "domainColor": "#86b6d6", "tickColor": "#86b6d6", "tickSize": 2, "labelPadding": 1, "titlePadding": 5}}
       },
       "layer": [
        {"transform": [{"filter": "datum.r == 'trace'"}], "mark": {"type": "line", "color": "#4a80ad", "strokeWidth": 0.9}},
        {"transform": [{"filter": "datum.r == 'label'"}], "mark": {"type": "text", "angle": -60, "align": "left", "baseline": "middle", "fontSize": 9.5, "lineBreak": "\n"},
         "encoding": {"text": {"field": "lab"},
          "color": {"field": "k", "type": "nominal", "scale": {"domain": ["G", "S", "P", "GS", "O"], "range": ["#f0964a", "#2fb85a", "#333333", "#3d8fd6", "#9aa8b8"]}, "legend": null}}},
        {"transform": [{"filter": "datum.r == 'arrow'"}], "mark": {"type": "rule", "color": "#333333", "strokeWidth": 0.8},
         "encoding": {"y2": {"field": "d2"}}},
        {"transform": [{"filter": "datum.r == 'trace' && datum.t == 0"}], "mark": {"type": "text", "fontSize": 13, "fontWeight": "bold", "color": "#111111", "align": "center", "baseline": "middle", "dy": -12},
         "encoding": {
          "x": {"datum": 25, "type": "quantitative",
                "axis": {"title": "time (min)", "values": [0,5,10,15,20,25,30,35,40,45,50], "tickCount": 10, "format": "d", "labelOverlap": false, "labelFlush": false, "grid": false, "labelFontSize": 5.5, "titleFontSize": 5.5, "titleFontWeight": "normal", "labelColor": "#333333", "titleColor": "#333333", "domainColor": "#86b6d6", "tickColor": "#86b6d6", "tickSize": 2, "labelPadding": 1, "titlePadding": 1}},
          "y": {"datum": 6000, "type": "quantitative",
                "axis": {"title": "dpm", "values": [0,1000,2000,3000,4000,5000,6000], "tickCount": 6, "minExtent": 0, "format": "d", "labelOverlap": false, "labelFlush": false, "grid": false, "labelFontSize": 5.5, "titleFontSize": 5.5, "titleFontWeight": "normal", "labelColor": "#333333", "titleColor": "#333333", "domainColor": "#86b6d6", "tickColor": "#86b6d6", "tickSize": 2, "labelPadding": 1, "titlePadding": 5}},
          "text": {"field": "c"}}}
       ]}
     },
     {"width": 287, "height": 20,
      "data": {"values": [{"key": "G", "desc": ": glucuronide"}, {"key": "S", "desc": ": sulfate"}]},
      "encoding": {"x": {"field": "key", "type": "nominal", "scale": {"type": "point", "padding": 1.364}, "axis": null}},
      "layer": [
       {"mark": {"type": "text", "align": "right", "baseline": "middle", "fontSize": 11, "fontWeight": "bold"},
        "encoding": {"text": {"field": "key"}, "color": {"field": "key", "type": "nominal", "scale": {"domain": ["G", "S"], "range": ["#f39a4a", "#2fb35a"]}, "legend": null}}},
       {"mark": {"type": "text", "align": "left", "baseline": "middle", "fontSize": 11, "color": "#6a6a6a"}, "encoding": {"text": {"field": "desc"}}}
      ]}
    ]}
   ]
  }
 ]
}
]
}
